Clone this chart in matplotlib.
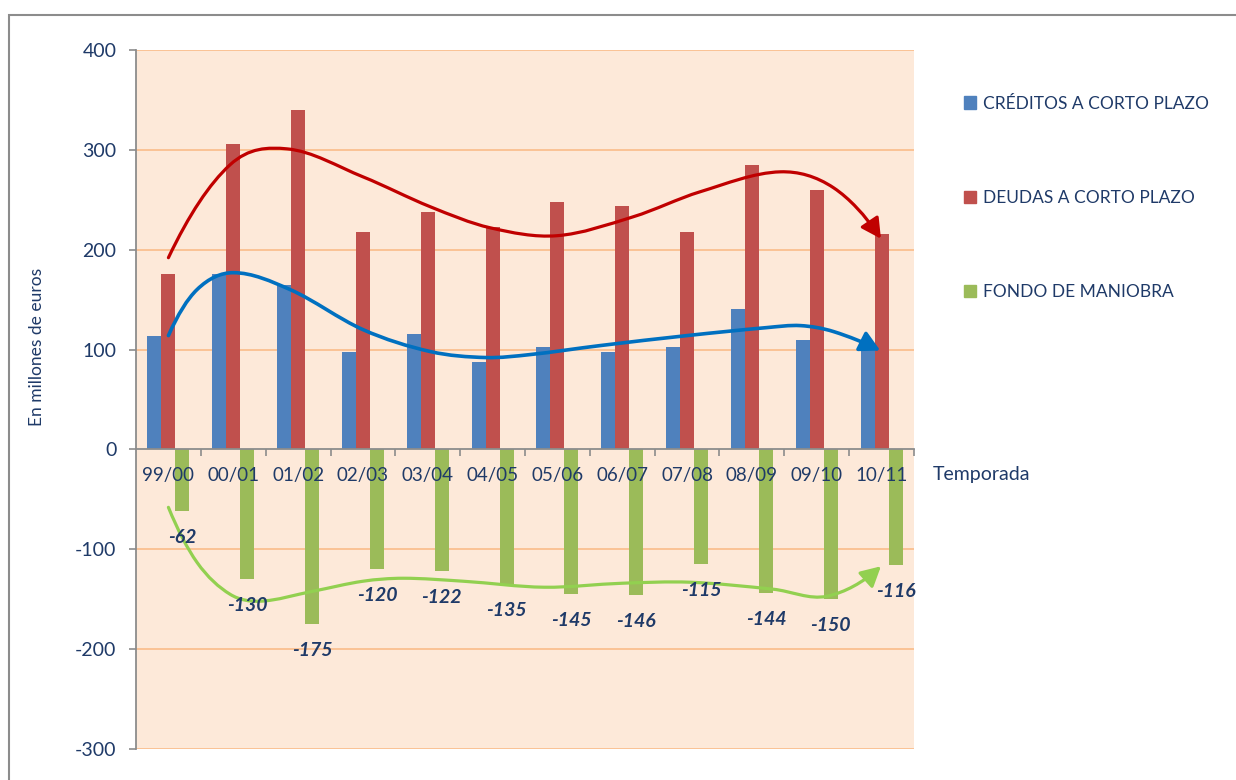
import numpy as np
import matplotlib
matplotlib.use("Agg")
from matplotlib import pyplot as plt
from matplotlib.path import Path
from matplotlib.patches import FancyArrowPatch, Rectangle, Patch

plt.rcParams['font.family'] = ['Lato', 'DejaVu Sans']
plt.rcParams['axes.unicode_minus'] = False

# datos
temporadas = ["99/00", "00/01", "01/02", "02/03", "03/04", "04/05",
              "05/06", "06/07", "07/08", "08/09", "09/10", "10/11"]
creditos = [114, 176, 165, 98, 116, 88, 103, 98, 103, 141, 110, 100]
deudas = [176, 306, 340, 218, 238, 223, 248, 244, 218, 285, 260, 216]
fondo = [-62, -130, -175, -120, -122, -135, -145, -146, -115, -144, -150, -116]

# tendencias dibujadas a mano (indice de temporada, valor)
tend_deudas_x = [0.0, 0.95, 1.83, 3.0, 4.04, 4.96, 5.99, 7.17, 8.2, 9.44, 10.26, 10.99]
tend_deudas_y = [192, 285, 301, 273, 243, 222, 214, 233, 258, 278, 262, 211]
tend_creditos_x = [0.0, 0.44, 1.0, 1.88, 3.0, 4.04, 4.9, 5.58, 6.66, 8.0, 9.23, 9.75, 10.26, 10.98]
tend_creditos_y = [114, 160, 177, 160, 120, 98, 92, 95, 104, 114, 122, 124, 118, 99]
tend_fondo_x = [0.0, 0.44, 0.95, 1.41, 2.23, 3.0, 3.62, 4.55, 5.8, 7.0, 8.05, 9.33, 10.16, 10.99]
tend_fondo_y = [-58, -113, -145, -152, -142, -132, -129, -132, -138, -134, -133, -140, -147, -117]

azul, rojo, verde = '#4F81BD', '#C0504D', '#9BBB59'
navy = '#1F3A68'
gris = '#8C8C8C'


def curva(xs, ys):
    # spline de Hermite como y(x), pasada a bezier
    xs = np.asarray(xs, float)
    ys = np.asarray(ys, float)
    n = len(xs)
    m = np.zeros(n)
    for i in range(1, n - 1):
        m[i] = (ys[i + 1] - ys[i - 1]) / (xs[i + 1] - xs[i - 1])
    m[0] = 2 * (ys[1] - ys[0]) / (xs[1] - xs[0]) - m[1]
    m[-1] = 2 * (ys[-1] - ys[-2]) / (xs[-1] - xs[-2]) - m[-2]
    verts = [(xs[0], ys[0])]
    codes = [Path.MOVETO]
    for i in range(n - 1):
        dx = (xs[i + 1] - xs[i]) / 3
        verts += [(xs[i] + dx, ys[i] + m[i] * dx),
                  (xs[i + 1] - dx, ys[i + 1] - m[i + 1] * dx),
                  (xs[i + 1], ys[i + 1])]
        codes += [Path.CURVE4] * 3
    return Path(verts, codes)


fig = plt.figure(figsize=(12.36, 7.8), dpi=100)
ax = fig.add_axes([136 / 1236, 31 / 780, 778 / 1236, 699 / 780])
ax.set_facecolor('#FDE9D9')

x = np.arange(len(temporadas))
w = 0.216
ax.bar(x - w, creditos, w, color=azul, zorder=1)
ax.bar(x, deudas, w, color=rojo, zorder=1)
ax.bar(x + w, fondo, w, color=verde, zorder=1)

for gy in range(-300, 401, 100):
    if gy != 0:
        ax.axhline(gy, color='#FAC08F', lw=1.3, zorder=0.5)

for i, v in enumerate(fondo):
    ax.text(x[i] + w, v - 26, str(v), ha='center', va='center', color=navy,
            fontsize=14, fontweight='bold', fontstyle='italic', zorder=5)

for xs, ys, c, lw in [(tend_deudas_x, tend_deudas_y, '#C00000', 2.3),
                      (tend_creditos_x, tend_creditos_y, '#0070C0', 2.6),
                      (tend_fondo_x, tend_fondo_y, '#92D050', 2.3)]:
    arr = FancyArrowPatch(path=curva(xs, ys),
                          arrowstyle='-|>,head_length=0.6,head_width=0.32',
                          mutation_scale=20, lw=lw, color=c, zorder=4)
    ax.add_patch(arr)

ax.set_xlim(-0.5, 11.5)
ax.set_ylim(-300, 400)
ax.set_yticks(range(-300, 401, 100))

ax.spines['top'].set_visible(False)
ax.spines['right'].set_visible(False)
ax.spines['left'].set_color(gris)
ax.spines['left'].set_linewidth(1.3)
ax.spines['bottom'].set_position(('data', 0))
ax.spines['bottom'].set_color(gris)
ax.spines['bottom'].set_linewidth(1.3)

ax.set_xticks(x)
ax.set_xticklabels(temporadas)
ax.set_xticks(np.arange(0.5, 12, 1), minor=True)
ax.tick_params(axis='x', which='major', length=0, pad=13, labelsize=13.5, labelcolor=navy)
ax.tick_params(axis='x', which='minor', length=5, width=1.2, color=gris, direction='out')
ax.tick_params(axis='y', length=5, width=1.2, color=gris, direction='out', pad=9,
               labelsize=14, labelcolor=navy)

fig.text(933 / 1236, 1 - 475 / 780, 'Temporada', ha='left', va='center', color=navy, fontsize=14)
fig.text(37 / 1236, 1 - 347 / 780, 'En millones de euros', ha='center', va='center',
         rotation=90, color=navy, fontsize=12.5)

handles = [Patch(color=azul), Patch(color=rojo), Patch(color=verde)]
fig.legend(handles, ['CRÉDITOS A CORTO PLAZO', 'DEUDAS A CORTO PLAZO', 'FONDO DE MANIOBRA'],
           loc='upper left', bbox_to_anchor=(948 / 1236, 1 - 80 / 780), frameon=False,
           fontsize=12.5, labelcolor=navy, handlelength=0.7, handleheight=0.7,
           handletextpad=0.4, labelspacing=4.5)

# marco exterior
fig.patches.append(Rectangle((9 / 1236, -0.1), 1.2, 1 - 15 / 780 + 0.1,
                             transform=fig.transFigure, fill=False, ec=gris, lw=1.5))

fig.savefig('out.png', dpi=100)
